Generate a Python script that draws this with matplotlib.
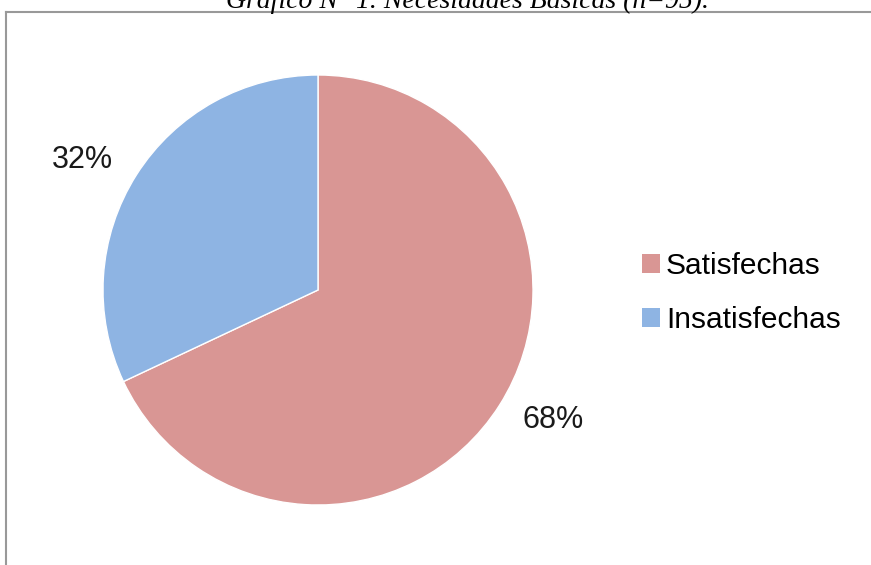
import matplotlib
matplotlib.use("Agg")
import matplotlib.pyplot as plt
import numpy as np
from matplotlib.lines import Line2D
from matplotlib.patches import Patch

# Necesidades basicas (n=95)
categorias = ["Satisfechas", "Insatisfechas"]
porcentajes = [68, 32]
colores = ["#D99694", "#8EB4E3"]
titulo = "Gráfico N° 1. Necesidades Básicas (n=95)."

plt.rcParams['font.family'] = ['Liberation Sans', 'DejaVu Sans']

fig = plt.figure(figsize=(8.71, 5.65), dpi=100)
W, H = 871, 565

# pie centred at (318, 290) px, radius ~215 px
ax = fig.add_axes([103 / W, (H - 505) / H, 430 / W, 430 / H])
wedges, textos = ax.pie(porcentajes, colors=colores, startangle=90,
                        counterclock=False,
                        wedgeprops=dict(edgecolor='white', linewidth=1))
ax.set_aspect('equal')
ax.set_xlim(-1, 1)
ax.set_ylim(-1, 1)

# percentage labels outside the wedges (Excel puts them a bit off the mid-angle)
for w, p in zip(wedges, porcentajes):
    ang = np.deg2rad((w.theta1 + w.theta2) / 2 + 3.5)
    ax.text(1.25 * np.cos(ang), 1.25 * np.sin(ang), f"{p}%",
            ha='center', va='center', fontsize=22, color='#1a1a1a')

# legend with small square markers
handles = [Patch(facecolor=c, edgecolor='none') for c in colores]
fig.legend(handles, categorias, loc='center left',
           bbox_to_anchor=(615 / W, 1 - 293 / H), frameon=False,
           fontsize=21.5, handlelength=0.6, handleheight=0.6,
           handletextpad=0.2, labelspacing=0.85)

# chart frame (gray border, cut off at right and bottom)
fig.add_artist(Line2D([6 / W, 6 / W], [0, 1 - 12 / H], color='#999999', lw=1.5,
                      transform=fig.transFigure))
fig.add_artist(Line2D([6 / W, 1], [1 - 12 / H, 1 - 12 / H], color='#999999',
                      lw=1.5, transform=fig.transFigure))

# title, partially cut by the top edge as in the original
fig.text(467 / W, 1 - 8 / H, titulo, ha='center', va='baseline',
         fontsize=20, style='italic', family='Liberation Serif')

fig.savefig("out.png", dpi=100)
